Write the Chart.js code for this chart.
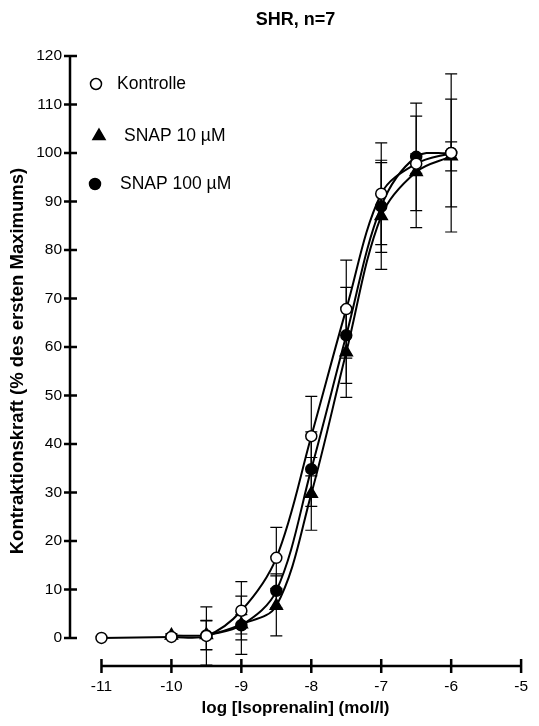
<!DOCTYPE html>
<html>
<head>
<meta charset="utf-8">
<script src="https://cdn.jsdelivr.net/npm/chart.js@4.4.1/dist/chart.umd.min.js"></script>
<style>
  html, body { margin: 0; padding: 0; background: #fff; }
  #wrap { width: 539px; height: 726px; }
</style>
</head>
<body>
<div id="wrap"><canvas id="chart" width="539" height="726"></canvas></div>
<script>
/* Concentration-response curves, SHR n=7 */

const LOG_DOSE = [-11, -10, -9.5, -9, -8.5, -8, -7.5, -7, -6.5, -6];
const KONTROLLE     = [0, 0.2, 0.4, 5.6, 16.5, 41.6, 67.8, 91.6, 97.8, 100];
const KONTROLLE_SEM = [0, 0.4, 6.0, 6.0, 6.3, 8.2, 10.1, 10.5, 2.0, 11.1];
const SNAP10        = [null, 0.5, 0.6, 2.8, 6.6, 29.7, 58.9, 87.0, 96.1, 99.3];
const SNAP10_SEM    = [null, 0.4, 3.0, 2.0, 6.2, 7.5, 9.3, 11.0, 11.5, 3.0];
const SNAP100       = [null, null, 0.5, 2.6, 9.7, 34.8, 62.4, 89.0, 99.2, 100];
const SNAP100_SEM   = [null, null, 3.0, 6.0, 3.5, 7.7, 9.9, 9.5, 11.1, 16.3];

const X_TICKS = [-11, -10, -9, -8, -7, -6, -5];
const Y_TICKS = [0, 10, 20, 30, 40, 50, 60, 70, 80, 90, 100, 110, 120];

const LEGEND_LABELS = ['Kontrolle', 'SNAP 10 \u00B5M', 'SNAP 100 \u00B5M'];

Chart.defaults.font.family = '"Liberation Sans", Arial, sans-serif';
Chart.defaults.color = '#000';

function toPoints(values, sems) {
  const pts = [];
  LOG_DOSE.forEach((x, i) => {
    if (values[i] === null) return;
    pts.push({ x: x, y: values[i], sem: sems[i] });
  });
  return pts;
}

const SERIES = [
  { label: LEGEND_LABELS[0], data: toPoints(KONTROLLE, KONTROLLE_SEM), pointStyle: 'circle', fill: '#fff', radius: 5.5 },
  { label: LEGEND_LABELS[1], data: toPoints(SNAP10, SNAP10_SEM), pointStyle: 'triangle', fill: '#000', radius: 7 },
  { label: LEGEND_LABELS[2], data: toPoints(SNAP100, SNAP100_SEM), pointStyle: 'circle', fill: '#000', radius: 5.5 }
];

// error bars drawn under the curves and markers
const errorBars = {
  id: 'errorBars',
  beforeDatasetsDraw(chart) {
    const { ctx, scales: { x, y } } = chart;
    ctx.save();
    ctx.strokeStyle = '#000';
    ctx.lineWidth = 1.2;
    chart.data.datasets.forEach(ds => {
      ds.data.forEach(p => {
        if (!p.sem) return;
        const px = x.getPixelForValue(p.x);
        const top = y.getPixelForValue(p.y + p.sem);
        const bot = y.getPixelForValue(p.y - p.sem);
        ctx.beginPath();
        ctx.moveTo(px, top); ctx.lineTo(px, bot);
        ctx.moveTo(px - 6, top); ctx.lineTo(px + 6, top);
        ctx.moveTo(px - 6, bot); ctx.lineTo(px + 6, bot);
        ctx.stroke();
      });
    });
    ctx.restore();
  }
};

// detached axes: y from 0..120, x from -11..-5
const axesLines = {
  id: 'axesLines',
  afterDraw(chart) {
    const { ctx, chartArea, scales: { x, y } } = chart;
    ctx.save();
    ctx.strokeStyle = '#000';
    ctx.lineWidth = 2.5;
    const ax = chartArea.left;
    ctx.beginPath();
    ctx.moveTo(ax, y.getPixelForValue(Y_TICKS[Y_TICKS.length - 1]));
    ctx.lineTo(ax, y.getPixelForValue(Y_TICKS[0]));
    Y_TICKS.forEach(v => {
      const py = y.getPixelForValue(v);
      ctx.moveTo(ax - 6, py); ctx.lineTo(ax + 7, py);
    });
    const ay = chartArea.bottom;
    ctx.moveTo(x.getPixelForValue(X_TICKS[0]), ay);
    ctx.lineTo(x.getPixelForValue(X_TICKS[X_TICKS.length - 1]), ay);
    X_TICKS.forEach(v => {
      const px = x.getPixelForValue(v);
      ctx.moveTo(px, ay - 7); ctx.lineTo(px, ay + 7);
    });
    ctx.stroke();
    ctx.restore();
  }
};

// legend inside plot area, top left
const innerLegend = {
  id: 'innerLegend',
  afterDraw(chart) {
    const { ctx } = chart;
    const rows = [
      { sx: 96, sy: 84, tx: 117 },
      { sx: 99, sy: 136, tx: 124 },
      { sx: 95, sy: 184, tx: 120 }
    ];
    ctx.save();
    chart.data.datasets.forEach((ds, i) => {
      const r = rows[i];
      ctx.fillStyle = ds.pointBackgroundColor;
      ctx.strokeStyle = '#000';
      ctx.lineWidth = 1.5;
      Chart.helpers.drawPoint(ctx, { pointStyle: ds.pointStyle, radius: ds.pointRadius, borderWidth: 1.5, rotation: 0 }, r.sx, r.sy);
      ctx.fillStyle = '#000';
      ctx.font = '17.5px "Liberation Sans", Arial, sans-serif';
      ctx.textBaseline = 'middle';
      ctx.fillText(ds.label, r.tx, r.sy);
    });
    ctx.restore();
  }
};

new Chart(document.getElementById('chart'), {
  type: 'line',
  data: {
    datasets: SERIES.map(s => ({
      label: s.label,
      data: s.data,
      borderColor: '#000',
      borderWidth: 2,
      tension: 0.35,
      pointStyle: s.pointStyle,
      pointRadius: s.radius,
      pointHoverRadius: s.radius,
      pointBackgroundColor: s.fill,
      pointBorderColor: '#000',
      pointBorderWidth: 1.5,
      fill: false
    }))
  },
  options: {
    responsive: false,
    animation: false,
    events: [],
    layout: { padding: { left: 0, right: 9, top: 0, bottom: 0 } },
    plugins: {
      legend: { display: false },
      tooltip: { enabled: false },
      title: {
        display: true,
        text: 'SHR, n=7',
        fullSize: false,
        font: { size: 18, weight: 'bold' },
        padding: { top: 9, bottom: 25.4 }
      }
    },
    scales: {
      x: {
        type: 'linear',
        min: -11.45,
        max: -5,
        afterBuildTicks: s => { s.ticks = X_TICKS.map(v => ({ value: v })); },
        afterFit: s => { s.height = 60; },
        grid: { display: false, drawTicks: false },
        border: { display: false },
        ticks: { padding: 11, font: { size: 15.5 } },
        title: {
          display: true,
          text: 'log [Isoprenalin] (mol/l)',
          font: { size: 17, weight: 'bold' },
          padding: { top: 0, bottom: 7 }
        }
      },
      y: {
        type: 'linear',
        min: -5.8,
        max: 120,
        afterBuildTicks: s => { s.ticks = Y_TICKS.map(v => ({ value: v })); },
        afterFit: s => { s.width = 70; },
        grid: { display: false, drawTicks: false },
        border: { display: false },
        ticks: { padding: 8, font: { size: 15.5 } },
        title: {
          display: true,
          text: 'Kontraktionskraft (% des ersten Maximums)',
          font: { size: 18.5, weight: 'bold' },
          padding: { top: 7, bottom: 0 }
        }
      }
    }
  },
  plugins: [errorBars, axesLines, innerLegend]
});
</script>
</body>
</html>
